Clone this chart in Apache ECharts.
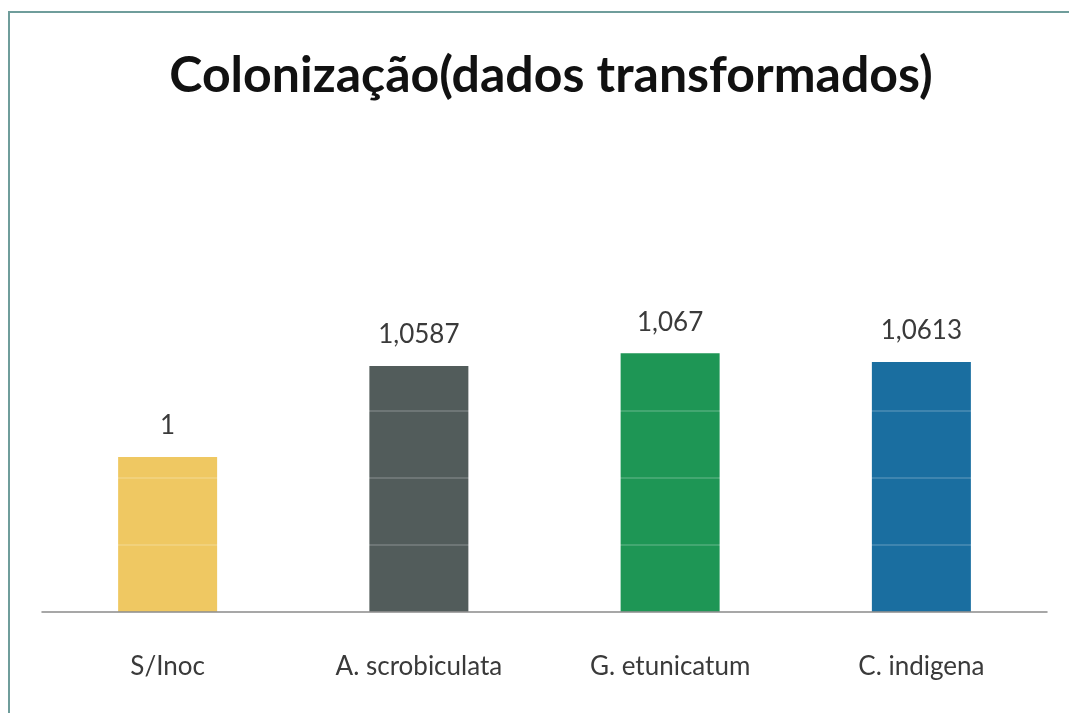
<!DOCTYPE html>
<html>
<head>
<meta charset="utf-8">
<script src="https://cdn.jsdelivr.net/npm/echarts@6/dist/echarts.min.js"></script>
<style>
  html, body { margin: 0; padding: 0; background: #ffffff; }
  #wrap { position: relative; width: 1069px; height: 713px; background: #ffffff; overflow: hidden; }
  #frame { position: absolute; left: 8px; top: 11px; right: -4px; bottom: -4px;
           border-top: 2px solid #6f9d9b; border-left: 2px solid #6f9d9b; }
  #chart { position: absolute; left: 0; top: 0; width: 1069px; height: 713px; }
</style>
</head>
<body>
<div id="wrap">
  <div id="frame"></div>
  <div id="chart"></div>
</div>
<script>
// Treatments and their transformed colonization values
const categories = ['S/Inoc', 'A. scrobiculata', 'G. etunicatum', 'C. indigena'];
const values = [1, 1.0587, 1.067, 1.0613];
const titleText = 'Colonização(dados transformados)';

const palette = ['#EFC862', '#525C5B', '#1E9655', '#1A6EA0'];
const fontFamily = 'Lato, "Open Sans", sans-serif';

const chart = echarts.init(document.getElementById('chart'), null, { renderer: 'canvas' });

const fmt = v => String(v).replace('.', ',');

chart.setOption({
  backgroundColor: 'transparent',
  animation: false,
  title: {
    text: titleText,
    left: 546,
    textAlign: 'center',
    top: 46,
    textStyle: { fontFamily: fontFamily, fontWeight: 'bold', fontSize: 50, color: '#111111' }
  },
  grid: { left: 42, right: 22, top: 344, bottom: 101 },
  xAxis: {
    type: 'category',
    data: categories,
    z: 6,
    axisLine: { show: true, lineStyle: { color: '#8a8a8a', width: 1.5 } },
    axisTick: { show: false },
    axisLabel: { margin: 42, fontFamily: fontFamily, fontSize: 26, color: '#3a3a3a' },
    splitLine: { show: false }
  },
  yAxis: [
    {
      type: 'value',
      min: 0.9,
      max: 0.9 + 268 / 1550,
      show: false,
      splitLine: { show: false }
    },
    {
      // faint horizontal gridlines drawn over the bars
      type: 'value',
      min: 0,
      max: 4,
      interval: 1,
      z: 5,
      axisLine: { show: false },
      axisTick: { show: false },
      axisLabel: { show: false },
      splitLine: { show: true, lineStyle: { color: 'rgba(255,255,255,0.22)', width: 1.5 } }
    }
  ],
  series: [{
    type: 'bar',
    yAxisIndex: 0,
    barWidth: 99,
    data: values.map((v, i) => ({ value: v, itemStyle: { color: palette[i] } })),
    label: {
      show: true,
      position: 'top',
      distance: 18,
      formatter: p => fmt(p.value),
      fontFamily: fontFamily,
      fontSize: 26,
      color: '#3a3a3a'
    }
  }]
});
</script>
</body>
</html>
